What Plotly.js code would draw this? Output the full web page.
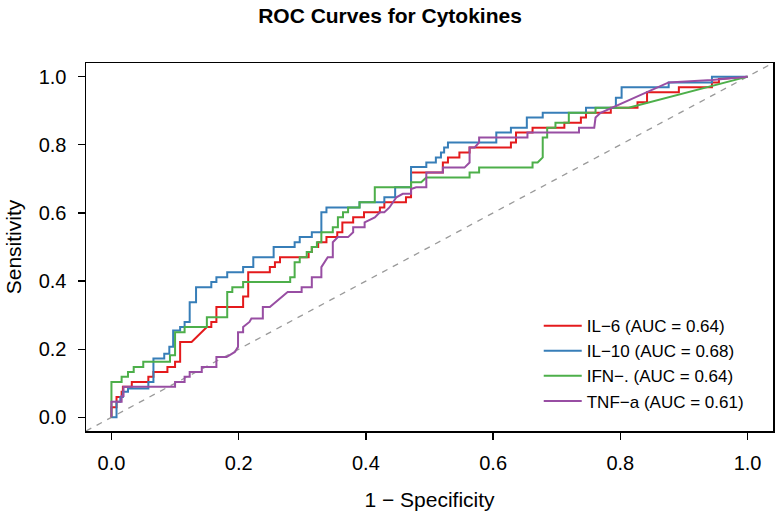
<!DOCTYPE html>
<html>
<head>
<meta charset="utf-8">
<script src="https://cdn.plot.ly/plotly-3.0.1.min.js"></script>
<style>html,body{margin:0;padding:0;background:#fff;}#chart{width:780px;height:519px;}</style>
</head>
<body>
<div id="chart"></div>
<script>
// ---- Data (x = 1 - specificity, y = sensitivity) ----
var il6_x = [0,0,0.008,0.008,0.016,0.016,0.018,0.018,0.032,0.032,0.058,0.058,0.066,0.066,0.088,0.088,0.1,0.1,0.108,0.108,0.126,0.15,0.157,0.157,0.165,0.165,0.207,0.207,0.215,0.215,0.249,0.249,0.257,0.257,0.265,0.265,0.31,0.31,0.315,0.315,0.325,0.325,0.338,0.338,0.355,0.355,0.363,0.363,0.38,0.38,0.397,0.397,0.422,0.422,0.429,0.429,0.463,0.463,0.471,0.471,0.521,0.521,0.529,0.529,0.547,0.547,0.563,0.563,0.628,0.628,0.636,0.636,0.662,0.662,0.712,0.712,0.738,0.738,0.746,0.746,0.785,0.785,0.827,0.827,0.842,0.842,0.892,0.892,0.944,0.944,0.955,0.955,1];
var il6_y = [0,0.03,0.03,0.06,0.06,0.075,0.075,0.09,0.09,0.104,0.104,0.119,0.119,0.133,0.133,0.148,0.148,0.163,0.163,0.221,0.221,0.265,0.265,0.28,0.28,0.324,0.324,0.355,0.355,0.426,0.426,0.441,0.441,0.455,0.455,0.47,0.47,0.485,0.485,0.5,0.5,0.514,0.514,0.529,0.529,0.543,0.543,0.572,0.572,0.587,0.587,0.602,0.602,0.616,0.616,0.631,0.631,0.646,0.646,0.719,0.719,0.748,0.748,0.763,0.763,0.777,0.777,0.792,0.792,0.807,0.807,0.836,0.836,0.85,0.85,0.865,0.865,0.88,0.88,0.894,0.894,0.909,0.909,0.925,0.925,0.954,0.954,0.969,0.969,0.983,0.983,0.993,1];

var il10_x = [0,0.008,0.008,0.014,0.014,0.018,0.018,0.026,0.026,0.058,0.058,0.066,0.066,0.083,0.083,0.091,0.091,0.097,0.097,0.108,0.108,0.115,0.115,0.123,0.123,0.133,0.133,0.157,0.157,0.165,0.165,0.182,0.182,0.207,0.207,0.223,0.223,0.255,0.255,0.288,0.288,0.296,0.296,0.315,0.315,0.33,0.33,0.338,0.338,0.39,0.39,0.429,0.429,0.446,0.446,0.471,0.471,0.495,0.495,0.51,0.51,0.518,0.518,0.523,0.523,0.529,0.529,0.605,0.605,0.628,0.628,0.653,0.653,0.678,0.678,0.746,0.746,0.793,0.793,0.802,0.802,0.876,0.876,0.944,0.944,1];
var il10_y = [0,0,0.046,0.046,0.06,0.06,0.075,0.075,0.085,0.085,0.104,0.104,0.173,0.173,0.187,0.187,0.207,0.207,0.255,0.255,0.265,0.265,0.28,0.28,0.338,0.338,0.382,0.382,0.397,0.397,0.411,0.411,0.426,0.426,0.441,0.441,0.47,0.47,0.5,0.5,0.514,0.514,0.529,0.529,0.543,0.543,0.602,0.602,0.616,0.616,0.631,0.631,0.646,0.646,0.675,0.675,0.735,0.735,0.748,0.748,0.763,0.763,0.777,0.777,0.792,0.792,0.807,0.807,0.836,0.836,0.85,0.85,0.88,0.88,0.894,0.894,0.909,0.909,0.938,0.938,0.969,0.969,0.983,0.983,1,1];

var ifn_x = [0,0,0.016,0.016,0.026,0.026,0.035,0.035,0.05,0.05,0.092,0.092,0.1,0.1,0.115,0.115,0.15,0.15,0.182,0.182,0.19,0.19,0.207,0.207,0.281,0.281,0.288,0.288,0.296,0.296,0.307,0.307,0.315,0.315,0.323,0.323,0.33,0.33,0.348,0.348,0.356,0.356,0.364,0.364,0.372,0.372,0.39,0.39,0.414,0.414,0.471,0.471,0.487,0.495,0.563,0.563,0.578,0.578,0.662,0.662,0.67,0.678,0.678,0.685,0.685,0.698,0.698,0.719,0.719,0.761,0.761,0.813,1];
var ifn_y = [0,0.104,0.104,0.119,0.119,0.133,0.133,0.148,0.148,0.163,0.163,0.182,0.182,0.25,0.25,0.265,0.265,0.294,0.294,0.368,0.368,0.382,0.382,0.397,0.397,0.411,0.411,0.455,0.455,0.47,0.47,0.485,0.485,0.5,0.5,0.514,0.514,0.543,0.543,0.558,0.558,0.587,0.587,0.602,0.602,0.616,0.616,0.631,0.631,0.675,0.675,0.69,0.69,0.704,0.704,0.719,0.719,0.733,0.733,0.748,0.748,0.763,0.821,0.821,0.85,0.85,0.865,0.865,0.894,0.894,0.909,0.909,1];

var tnf_x = [0,0,0.016,0.016,0.019,0.019,0.1,0.1,0.115,0.115,0.123,0.123,0.142,0.142,0.165,0.165,0.181,0.194,0.199,0.199,0.207,0.207,0.217,0.22,0.238,0.238,0.249,0.267,0.277,0.299,0.299,0.315,0.315,0.33,0.33,0.34,0.348,0.348,0.356,0.372,0.38,0.38,0.398,0.398,0.414,0.422,0.429,0.437,0.448,0.458,0.471,0.471,0.479,0.495,0.495,0.521,0.521,0.555,0.563,0.563,0.571,0.578,0.578,0.654,0.654,0.735,0.735,0.759,0.761,0.769,0.782,0.876,0.944,1];
var tnf_y = [0,0.046,0.046,0.063,0.063,0.09,0.09,0.104,0.104,0.119,0.119,0.133,0.133,0.148,0.148,0.177,0.177,0.192,0.207,0.25,0.25,0.265,0.28,0.29,0.29,0.324,0.324,0.353,0.368,0.368,0.382,0.382,0.411,0.411,0.441,0.47,0.47,0.514,0.529,0.529,0.543,0.558,0.558,0.572,0.587,0.602,0.602,0.616,0.646,0.656,0.656,0.67,0.675,0.675,0.719,0.719,0.733,0.733,0.748,0.792,0.792,0.807,0.821,0.821,0.836,0.836,0.85,0.85,0.88,0.894,0.905,0.983,0.99,1];

var seriesNames = ['IL\u22126 (AUC = 0.64)', 'IL\u221210 (AUC = 0.68)', 'IFN\u2212. (AUC = 0.64)', 'TNF\u2212a (AUC = 0.61)'];
var seriesColors = ['#E41A1C', '#377EB8', '#4DAF4A', '#984EA3'];
var refLine = [-0.04, 1.04];
var tickVals = [0, 0.2, 0.4, 0.6, 0.8, 1.0];
var tickText = ['0.0', '0.2', '0.4', '0.6', '0.8', '1.0'];

var FONT = 'Liberation Sans, Arial, Helvetica, sans-serif';
var xs = [il6_x, il10_x, ifn_x, tnf_x];
var ys = [il6_y, il10_y, ifn_y, tnf_y];

var traces = [{
  x: refLine, y: refLine, mode: 'lines', showlegend: false, hoverinfo: 'skip',
  line: {color: '#9a9a9a', width: 1.3, dash: '6px,6px'}
}];
for (var i = 0; i < 4; i++) {
  traces.push({x: xs[i], y: ys[i], mode: 'lines', name: seriesNames[i],
    line: {color: seriesColors[i], width: 2}});
}

var axisCommon = {
  range: [-0.04, 1.04], tickvals: tickVals, ticktext: tickText,
  ticks: 'outside', ticklen: 7, tickwidth: 1.3, tickcolor: '#000',
  showline: true, mirror: true, linecolor: '#000', linewidth: 1.5,
  showgrid: false, zeroline: false, automargin: false,
  tickfont: {family: FONT, size: 20, color: '#000'}
};

var layout = {
  width: 780, height: 519,
  margin: {l: 86, r: 7, t: 63, b: 88},
  paper_bgcolor: '#fff', plot_bgcolor: '#fff',
  font: {family: FONT, color: '#000'},
  title: {text: 'ROC Curves for Cytokines', x: 0.5, xref: 'container', y: 1 - 16/519, yref: 'container', yanchor: 'middle',
          font: {family: FONT, size: 21, weight: 'bold', color: '#000'}},
  xaxis: Object.assign({}, axisCommon, {ticklabelstandoff: 6,
          title: {text: '1 \u2212 Specificity', font: {family: FONT, size: 21}, standoff: 20}}),
  yaxis: Object.assign({}, axisCommon, {ticklabelstandoff: 7,
          title: {text: 'Sensitivity', font: {family: FONT, size: 21}, standoff: 11}}),
  showlegend: true,
  legend: {x: 0.659, y: 0.334, xanchor: 'left', yanchor: 'top', bgcolor: 'rgba(0,0,0,0)', borderwidth: 0,
           font: {family: FONT, size: 17, color: '#000'}, itemwidth: 38, tracegroupgap: 0}
};

Plotly.newPlot('chart', traces, layout, {displayModeBar: false, staticPlot: true});
</script>
</body>
</html>
